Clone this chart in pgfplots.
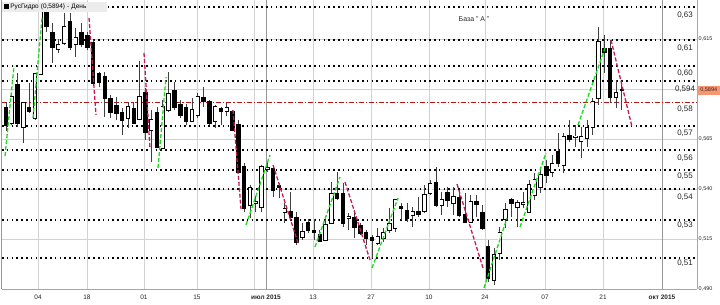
\documentclass[border=0pt]{standalone}
\usepackage{pgfplots}
\pgfplotsset{compat=1.18}
\usepackage{pgfplotstable}
\usepackage{fontspec}
\setmainfont{Liberation Sans}
\definecolor{gridc}{RGB}{210,210,210}
\definecolor{monthc}{RGB}{150,150,150}
\definecolor{trendg}{RGB}{30,215,30}
\definecolor{trendr}{RGB}{200,25,90}
\definecolor{lvlred}{RGB}{185,20,20}
\definecolor{pricebox}{RGB}{247,150,112}
\definecolor{titlebg}{RGB}{236,236,236}
\definecolor{leftpink}{RGB}{215,120,150}
\tikzset{
  tg/.style={trendg, line width=1.3bp, dash pattern=on 4bp off 2bp},
  tr/.style={trendr, line width=1.3bp, dash pattern=on 4bp off 2bp},
  lvl/.style={black, line width=1.5bp, dash pattern=on 1.5bp off 3.3bp},
}
\pgfplotsset{
  candle/.style={draw=none, mark=none, forget plot,
    /pgfplots/error bars/y dir=plus, /pgfplots/error bars/y explicit,
    /pgfplots/error bars/error mark=none,
    /pgfplots/error bars/error bar style={#1}},
}

% candles: i = trading-day index, o h l c
\pgfplotstableread{
i o h l c
1 .573 .588 .572 .586
3 .571 .583 .563 .583
5 .5755 .5975 .5745 .5975
6 .5975 .6295 .5975 .6285
9 .610 .615 .608 .612
10 .613 .628 .612 .621
12 .6125 .6205 .606 .6155
21 .5755 .5835 .5705 .581
23 .575 .604 .5745 .586
25 .5695 .5795 .5535 .5745
27 .5605 .5845 .5605 .581
28 .5795 .5985 .5785 .5875
32 .574 .5855 .5735 .5795
33 .577 .588 .5755 .586
36 .574 .582 .5705 .581
38 .579 .583 .5765 .5805
42 .532 .542 .5255 .5405
43 .533 .5365 .5285 .5335
44 .531 .552 .5285 .551
45 .550 .5535 .5485 .5505
48 .5285 .533 .523 .530
51 .516 .523 .5145 .5185
55 .5145 .5255 .514 .522
56 .523 .5435 .523 .5375
59 .5255 .528 .5195 .526
64 .513 .5205 .512 .516
65 .5155 .5205 .5135 .518
66 .5195 .5305 .518 .5225
67 .5205 .535 .5185 .5345
70 .527 .531 .521 .5285
72 .529 .542 .528 .537
73 .538 .5445 .537 .5425
75 .532 .5385 .527 .5345
77 .533 .541 .527 .536
80 .5235 .537 .523 .5335
84 .4945 .5105 .492 .507
85 .508 .521 .5045 .518
86 .525 .533 .5205 .5295
88 .531 .5345 .521 .533
89 .5325 .5385 .5305 .533
90 .5285 .5445 .528 .542
91 .537 .548 .5345 .5445
92 .541 .551 .538 .547
94 .5485 .557 .546 .5525
96 .552 .568 .548 .566
98 .5658 .572 .561 .5663
99 .564 .571 .5555 .566
100 .5655 .5745 .561 .5705
101 .571 .5855 .567 .5835
102 .5855 .621 .582 .6135
105 .586 .5945 .5805 .588
}\upcandles

\pgfplotstableread{
i o h l c
0 .5805 .5835 .569 .572
2 .592 .598 .571 .573
4 .5805 .593 .578 .579
7 .6285 .629 .6185 .6215
8 .618 .623 .603 .611
11 .6235 .628 .6095 .611
13 .618 .623 .611 .6125
14 .6165 .6185 .6095 .611
15 .613 .6145 .592 .593
16 .5975 .5985 .591 .5935
17 .596 .5985 .576 .5855
18 .585 .587 .5755 .5785
19 .5815 .586 .5745 .578
20 .578 .5805 .567 .5745
22 .580 .5835 .5725 .573
24 .588 .5905 .5645 .5685
26 .578 .581 .5605 .561
29 .589 .5935 .5795 .581
30 .582 .5845 .5755 .577
31 .5805 .5825 .572 .574
34 .5855 .591 .581 .584
35 .5835 .5845 .572 .573
37 .580 .581 .572 .579
39 .5785 .5795 .569 .5695
40 .572 .5745 .548 .5485
41 .551 .553 .5285 .5305
46 .550 .5515 .536 .5395
47 .5415 .543 .5355 .541
49 .5285 .5385 .5255 .526
50 .5255 .5285 .512 .5135
52 .523 .525 .518 .5195
53 .519 .525 .5145 .5185
54 .517 .5195 .5135 .514
57 .5375 .5485 .5345 .5355
58 .5375 .543 .521 .523
60 .5255 .5295 .5155 .521
61 .5215 .523 .517 .518
62 .518 .5195 .512 .5155
63 .5155 .517 .5055 .5145
68 .531 .533 .5245 .5305
69 .529 .533 .5235 .5255
71 .5285 .536 .526 .5275
74 .543 .551 .531 .532
76 .538 .541 .531 .5345
78 .5355 .5395 .526 .527
79 .527 .538 .523 .5235
81 .5335 .537 .526 .5325
82 .528 .532 .5195 .5205
83 .511 .5145 .4935 .4955
87 .5345 .5355 .526 .533
93 .551 .5545 .543 .547
95 .5585 .568 .551 .553
97 .5665 .5745 .5635 .565
103 .610 .617 .598 .6085
104 .610 .6145 .583 .586
106 .5898 .593 .5795 .5894
}\downcandles

\begin{document}
\begin{tikzpicture}[x=1bp,y=1bp]
\path[use as bounding box] (0,0) rectangle (720,304);
\begin{axis}[
  at={(2bp,15bp)}, anchor=south west,
  scale only axis, width=695bp, height=289bp,
  xmin=-0.688, xmax=118.93, ymin=0.49, ymax=0.6345,
  axis x line*=bottom, axis y line*=right,
  axis line style={draw=gray!70, line width=0.8bp},
  clip mode=individual,
  xtick={5.51,13.94,23.75,32.87,42.69,52.84,62.82,72.8,82.44,92.77,102.75},
  xticklabels={04,18,01,15,{},13,27,10,24,07,21},
  extra x ticks={44.75,112.9},
  extra x tick labels={\textbf{июл 2015},\textbf{окт 2015}},
  extra x tick style={grid style={draw=monthc, line width=0.9bp}},
  ytick={0.490,0.515,0.540,0.565,0.590,0.615},
  yticklabels={{0,490},{0,515},{0,540},{0,565},{},{0,615}},
  grid=major, grid style={draw=gridc, line width=0.8bp},
  major tick length=0pt,
  xticklabel style={font=\fontsize{6.5}{7}\selectfont, text=black!85, anchor=center, yshift=-8.5bp},
  yticklabel style={font=\fontsize{5.5}{6}\selectfont, text=black!85, anchor=west, inner sep=1.5bp},
]
% horizontal levels
\pgfplotsinvokeforeach{0.631,0.6145,0.6015,0.594,0.5715,0.5595,0.5495,0.540,0.5245,0.5055}{
  \addplot[lvl] coordinates {(-0.688,#1) (118.93,#1)};
}
\addplot[lvlred, line width=0.9bp, dash pattern=on 5bp off 2bp on 1.2bp off 2bp]
  coordinates {(-0.688,0.5835) (118.93,0.5835)};

% wicks
\addplot[candle={draw=black!75, line width=0.8bp}]
  table[x=i, y=l, y error plus expr=\thisrow{h}-\thisrow{l}] {\upcandles};
\addplot[candle={draw=black!75, line width=0.8bp}]
  table[x=i, y=l, y error plus expr=\thisrow{h}-\thisrow{l}] {\downcandles};
% bodies: falling (black)
\addplot[candle={draw=black, line width=4.4bp, shorten <=-0.6bp, shorten >=-0.6bp}]
  table[x=i, y=c, y error plus expr=\thisrow{o}-\thisrow{c}] {\downcandles};
% bodies: rising (hollow)
\addplot[candle={draw=black, line width=4.4bp, shorten <=-0.6bp, shorten >=-0.6bp}]
  table[x=i, y=o, y error plus expr=\thisrow{c}-\thisrow{o}] {\upcandles};
\addplot[candle={draw=white, line width=2.8bp}]
  table[x=i, y=o, y error plus expr=\thisrow{c}-\thisrow{o}] {\upcandles};

% trend lines
\addplot[tg] coordinates {(-0.17,0.5565) (1.38,0.6015)};
\addplot[tg] coordinates {(4.65,0.5755) (6.20,0.6255)};
\addplot[tg] coordinates {(26.16,0.5505) (27.54,0.596)};
\addplot[tg] coordinates {(41.31,0.522) (45.44,0.557)};
\addplot[tg] coordinates {(53.18,0.511) (57.49,0.546)};
\addplot[tg] coordinates {(63.0,0.5005) (67.47,0.5355)};
\addplot[tg] coordinates {(82.27,0.4905) (86.23,0.5255)};
\addplot[tg] coordinates {(88.47,0.521) (92.94,0.558)};
\addplot[tg] coordinates {(98.45,0.572) (103.1,0.6105)};
\addplot[tr] coordinates {(14.29,0.6255) (15.49,0.577)};
\addplot[tr] coordinates {(23.75,0.608) (24.78,0.5605)};
\addplot[tr] coordinates {(39.07,0.5795) (40.45,0.530)};
\addplot[tr] coordinates {(45.96,0.552) (50.26,0.513)};
\addplot[tr] coordinates {(58.35,0.5435) (62.65,0.5045)};
\addplot[tr] coordinates {(77.62,0.5425) (82.1,0.5005)};
\addplot[tr] coordinates {(104.13,0.6145) (107.75,0.571)};

% left edge line
\draw[leftpink, line width=1bp] ([xshift=-0.5bp]rel axis cs:0,0) -- ([xshift=-0.5bp]rel axis cs:0,1);

% level labels
\begin{scope}[every node/.style={font=\fontsize{8}{9}\selectfont, text=black!85, inner sep=0pt}]
\node at (axis cs:116.87,0.627) {0,63};
\node at (axis cs:116.87,0.6105) {0,61};
\node at (axis cs:116.87,0.598) {0,60};
\node at (axis cs:116.87,0.590) {0,594};
\node at (axis cs:116.87,0.580) {0,58};
\node at (axis cs:116.87,0.568) {0,57};
\node at (axis cs:116.87,0.5555) {0,56};
\node at (axis cs:116.87,0.5465) {0,55};
\node at (axis cs:116.87,0.536) {0,54};
\node at (axis cs:116.87,0.522) {0,53};
\node at (axis cs:116.87,0.503) {0,51};
\end{scope}

% current price box
\node[anchor=west, fill=pricebox, inner sep=0pt, minimum width=23bp, minimum height=9bp,
  font=\fontsize{5.5}{6}\selectfont, text=black!85] at (axis cs:118.93,0.5894) {0,5894};

% title
\node[anchor=north west, yshift=-2bp, xshift=0bp, fill=titlebg, inner xsep=2bp, inner ysep=1.5bp,
  text width=101bp, align=left, font=\fontsize{6.5}{7.5}\selectfont]
  at (rel axis cs:0,1) {\rule{5bp}{5bp}\,РусГидро (0,5894) - День};
\node[font=\fontsize{7}{8}\selectfont, text=black!85] at (axis cs:80.55,0.625) {База " A "};
\end{axis}
\end{tikzpicture}
\end{document}
